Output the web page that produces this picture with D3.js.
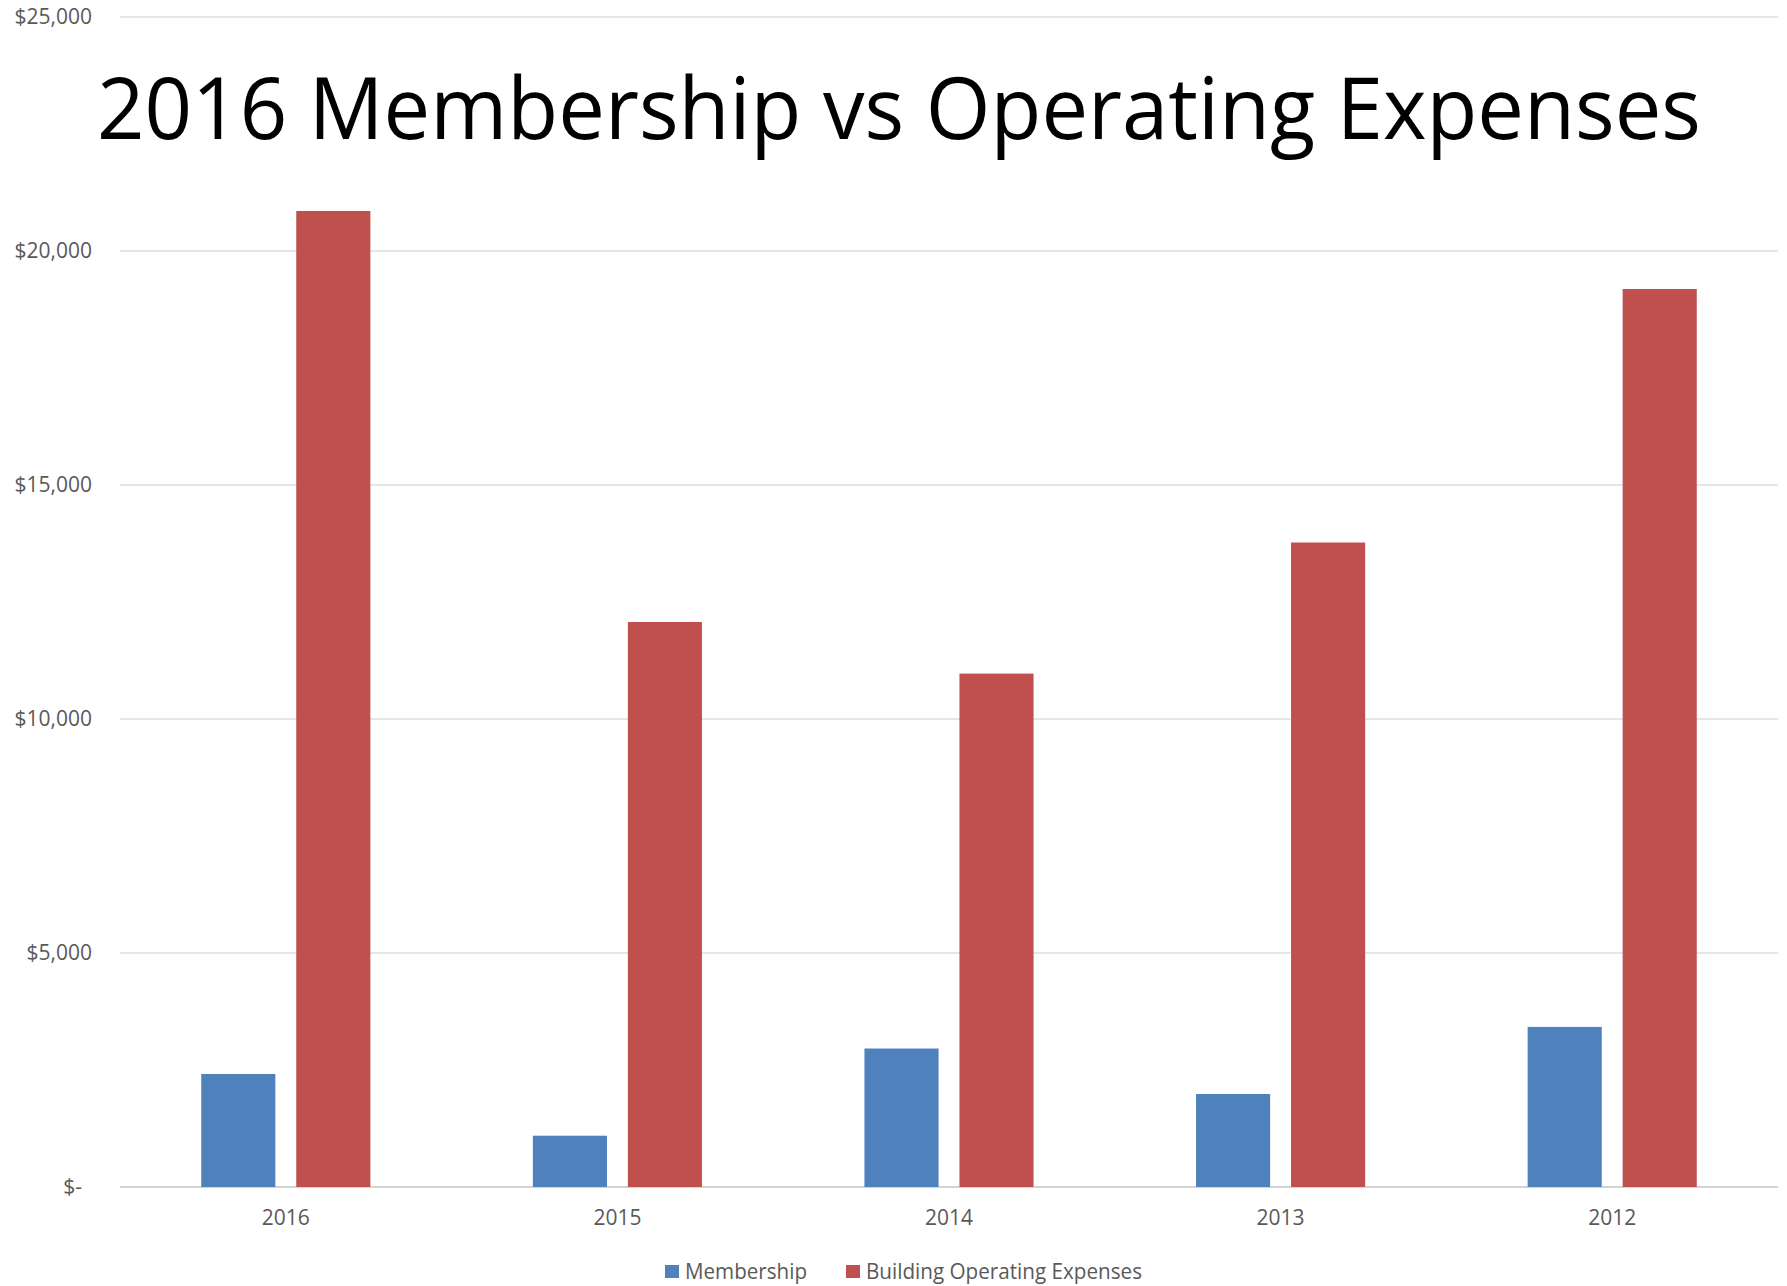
<!DOCTYPE html>
<html>
<head>
<meta charset="utf-8">
<script src="https://cdn.jsdelivr.net/npm/d3@7"></script>
<style>
  body { margin: 0; background: #fff; }
  text { font-family: "Open Sans", "Noto Sans", sans-serif; }
</style>
</head>
<body>
<svg id="chart" width="1787" height="1286"></svg>
<script>
// chart values
const years = ['2016', '2015', '2014', '2013', '2012']
const seriesNames = ['Membership', 'Building Operating Expenses']
const membership = [2415, 1096, 2959, 1987, 3421]
const operating = [20855, 12073, 10970, 13771, 19188]
const yTicks = [0, 5000, 10000, 15000, 20000, 25000]
const colors = ['#4f81bd', '#c0504d']

const svg = d3.select('#chart')
const margin = {left: 120, right: 9, top: 17, bottom: 99}
const width = 1787, height = 1286

const rows = years.map((y, i) => ({year: y, values: [membership[i], operating[i]]}))

// scales
const x = d3.scaleBand()
  .domain(years)
  .range([margin.left, width - margin.right])
  .paddingInner(0.49)
  .paddingOuter(0.245)

const xInner = d3.scaleBand()
  .domain(seriesNames)
  .range([0, x.bandwidth()])
  .paddingInner(0.22)

const y = d3.scaleLinear()
  .domain([0, 25000])
  .range([height - margin.bottom, margin.top])

// gridlines
svg.append('g')
  .selectAll('line')
  .data(yTicks)
  .join('line')
  .attr('x1', margin.left)
  .attr('x2', width - margin.right)
  .attr('y1', d => y(d))
  .attr('y2', d => y(d))
  .attr('stroke', d => d === 0 ? '#d4d4d4' : '#dedede')
  .attr('stroke-width', d => d === 0 ? 2 : 1.5)

// y tick labels
const fmt = d => d === 0 ? '$-' : '$' + d3.format(',')(d)
svg.append('g')
  .selectAll('text')
  .data(yTicks)
  .join('text')
  .attr('x', d => d === 0 ? 82 : 92)
  .attr('y', d => y(d))
  .attr('dy', '0.35em')
  .attr('text-anchor', 'end')
  .attr('font-size', 21)
  .attr('fill', '#595959')
  .text(fmt)

// bars
const groups = svg.append('g')
  .selectAll('g')
  .data(rows)
  .join('g')
  .attr('transform', d => `translate(${x(d.year)},0)`)

groups.selectAll('rect')
  .data(d => d.values.map((v, i) => ({name: seriesNames[i], value: v, i})))
  .join('rect')
  .attr('x', d => xInner(d.name))
  .attr('width', xInner.bandwidth())
  .attr('y', d => y(d.value))
  .attr('height', d => y(0) - y(d.value))
  .attr('fill', d => colors[d.i])

// x labels
svg.append('g')
  .selectAll('text')
  .data(years)
  .join('text')
  .attr('x', d => x(d) + x.bandwidth() / 2)
  .attr('y', 1225)
  .attr('text-anchor', 'middle')
  .attr('font-size', 21)
  .attr('fill', '#595959')
  .text(d => d)

// title
svg.append('text')
  .attr('x', 97)
  .attr('y', 139)
  .attr('font-size', 86)
  .attr('fill', '#000')
  .attr('textLength', 1604)
  .attr('lengthAdjust', 'spacingAndGlyphs')
  .text('2016 Membership vs Operating Expenses')

// legend
const legendX = [665, 846]
const legendW = [142, 296]
const legend = svg.append('g')
  .selectAll('g')
  .data(seriesNames)
  .join('g')
  .attr('transform', (d, i) => `translate(${legendX[i]},1265)`)
legend.append('rect')
  .attr('width', 14)
  .attr('height', 13)
  .attr('fill', (d, i) => colors[i])
legend.append('text')
  .attr('x', 20)
  .attr('y', 6.5)
  .attr('dy', '0.35em')
  .attr('font-size', 21)
  .attr('fill', '#595959')
  .attr('textLength', (d, i) => legendW[i] - 20)
  .attr('lengthAdjust', 'spacingAndGlyphs')
  .text(d => d)
</script>
</body>
</html>
